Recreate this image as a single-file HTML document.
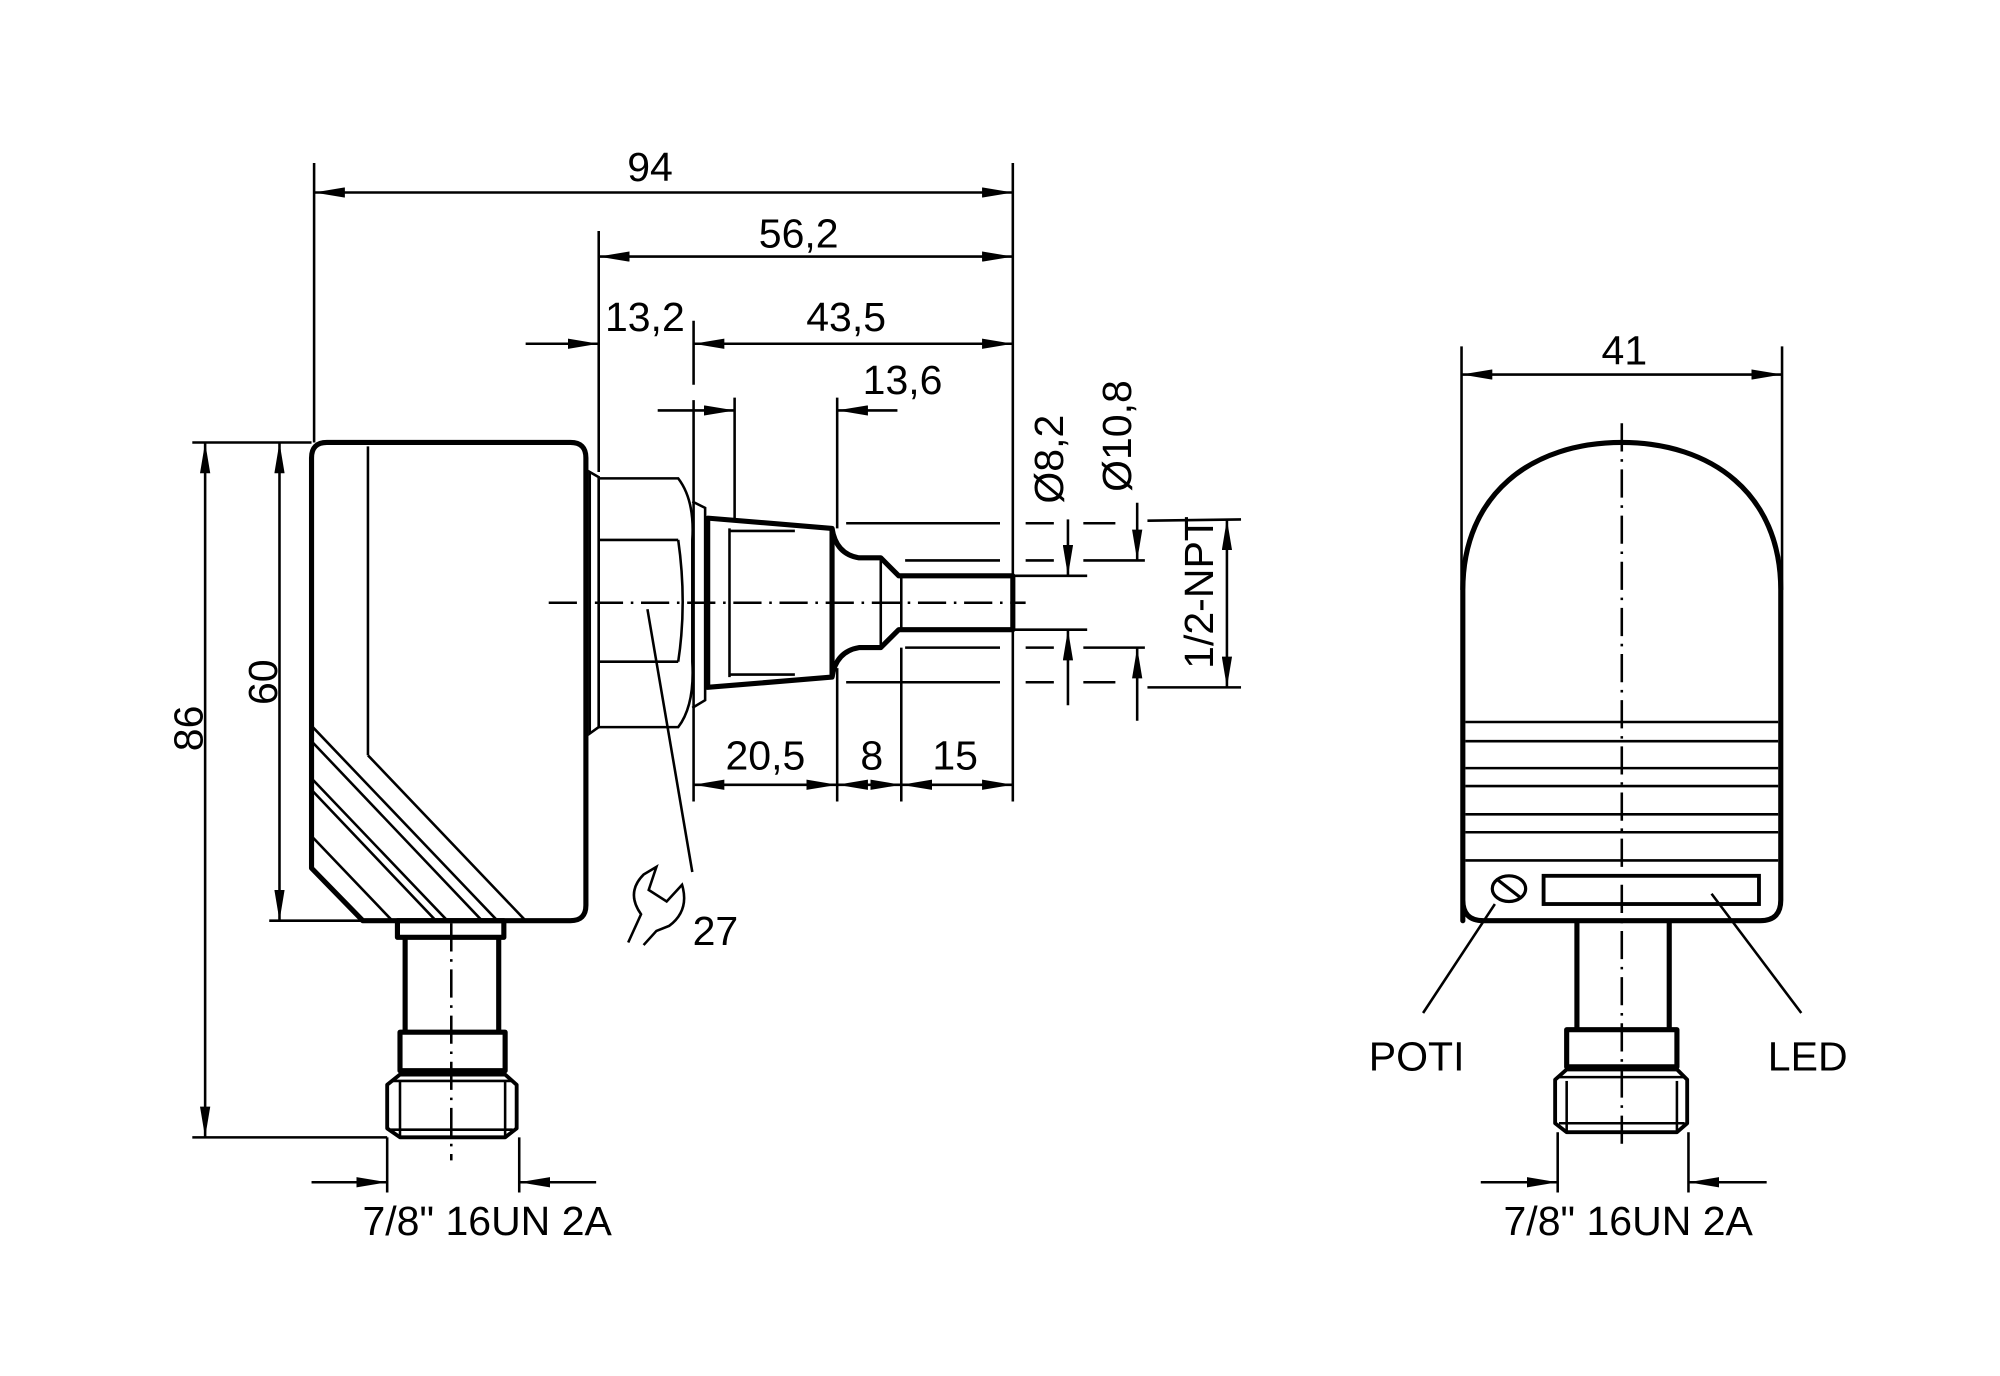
<!DOCTYPE html>
<html><head><meta charset="utf-8"><style>
html,body{margin:0;padding:0;background:#fff}
svg{display:block}
text{font-family:"Liberation Sans",Arial,sans-serif;fill:#000}
</style></head><body>
<svg width="2000" height="1376" viewBox="0 0 1560 1073" xmlns="http://www.w3.org/2000/svg">
<defs>
<marker id="a" viewBox="0 0 24 8" refX="24" refY="4" markerWidth="24" markerHeight="8" markerUnits="userSpaceOnUse" orient="auto-start-reverse"><path d="M0,0 L24,4 L0,8 z" fill="#000"/></marker>
</defs>
<g stroke="#000" fill="none" stroke-width="2">
<line x1="245" y1="127" x2="245" y2="345"/>
<line x1="790" y1="127" x2="790" y2="625"/>
<line x1="467" y1="180" x2="467" y2="368"/>
<line x1="541" y1="250" x2="541" y2="300"/>
<line x1="541" y1="312" x2="541" y2="625"/>
<line x1="573" y1="310" x2="573" y2="405"/>
<line x1="653" y1="310" x2="653" y2="412"/>
<line x1="653" y1="521" x2="653" y2="625"/>
<line x1="703" y1="505" x2="703" y2="625"/>
<line x1="150" y1="345" x2="243" y2="345"/>
<line x1="210" y1="718" x2="283" y2="718"/>
<line x1="150" y1="887" x2="302" y2="887"/>
<line x1="302" y1="887" x2="302" y2="930"/>
<line x1="405" y1="887" x2="405" y2="930"/>
<line x1="245" y1="150" x2="790" y2="150" marker-start="url(#a)" marker-end="url(#a)"/>
<line x1="467" y1="200" x2="790" y2="200" marker-start="url(#a)" marker-end="url(#a)"/>
<line x1="410" y1="268" x2="467" y2="268" marker-end="url(#a)"/>
<line x1="541" y1="268" x2="790" y2="268" marker-start="url(#a)" marker-end="url(#a)"/>
<line x1="513" y1="320" x2="573" y2="320" marker-end="url(#a)"/>
<line x1="700" y1="320" x2="653" y2="320" marker-end="url(#a)"/>
<line x1="833" y1="405" x2="833" y2="449" marker-end="url(#a)"/>
<line x1="833" y1="550" x2="833" y2="491" marker-end="url(#a)"/>
<line x1="887" y1="392" x2="887" y2="437" marker-end="url(#a)"/>
<line x1="887" y1="562" x2="887" y2="505" marker-end="url(#a)"/>
<line x1="957" y1="405" x2="957" y2="536" marker-start="url(#a)" marker-end="url(#a)"/>
<line x1="541" y1="612" x2="653" y2="612" marker-start="url(#a)" marker-end="url(#a)"/>
<line x1="653" y1="612" x2="703" y2="612" marker-start="url(#a)" marker-end="url(#a)"/>
<line x1="703" y1="612" x2="790" y2="612" marker-start="url(#a)" marker-end="url(#a)"/>
<line x1="218" y1="345" x2="218" y2="718" marker-start="url(#a)" marker-end="url(#a)"/>
<line x1="160" y1="345" x2="160" y2="887" marker-start="url(#a)" marker-end="url(#a)"/>
<line x1="243" y1="922" x2="302" y2="922" marker-end="url(#a)"/>
<line x1="465" y1="922" x2="405" y2="922" marker-end="url(#a)"/>
<line x1="790" y1="449" x2="848" y2="449"/>
<line x1="790" y1="491" x2="848" y2="491"/>
<line x1="660" y1="408" x2="780" y2="408"/>
<line x1="660" y1="532" x2="780" y2="532"/>
<line x1="800" y1="408" x2="822" y2="408"/><line x1="845" y1="408" x2="870" y2="408"/><line x1="895" y1="406" x2="968" y2="405"/>
<line x1="800" y1="532" x2="822" y2="532"/><line x1="845" y1="532" x2="870" y2="532"/><line x1="895" y1="536" x2="968" y2="536"/>
<line x1="706" y1="437" x2="780" y2="437"/><line x1="800" y1="437" x2="822" y2="437"/><line x1="845" y1="437" x2="893" y2="437"/>
<line x1="706" y1="505" x2="780" y2="505"/><line x1="800" y1="505" x2="822" y2="505"/><line x1="845" y1="505" x2="893" y2="505"/>
<line x1="428" y1="470" x2="800" y2="470" stroke-dasharray="22,6,2,6"/>
<line x1="352" y1="720" x2="352" y2="905" stroke-dasharray="22,6,2,6"/>
<line x1="505" y1="475" x2="540" y2="680"/>
<path d="M490,735 L500,713 Q488,696 502,682 L512,676 L506,694 L520,703 L532,690 Q538,710 522,722 L512,726 L502,737"/>
<path d="M460,368 L467,372 L467,567 L460,572 Z"/>
<path d="M467,373 L529,373 Q542,390 540,421 Q540,470 540,516 Q542,550 529,567 L467,567 Z"/>
<line x1="467" y1="421" x2="529" y2="421"/><line x1="467" y1="516" x2="529" y2="516"/>
<path d="M529,421 Q536,470 529,516"/>
<path d="M540,391 L550,396 L550,546 L540,552"/>
<line x1="569" y1="412" x2="569" y2="528"/>
<line x1="569" y1="414" x2="620" y2="414"/>
<line x1="569" y1="526" x2="620" y2="526"/>
<line x1="687" y1="437" x2="687" y2="505"/>
<line x1="703" y1="449" x2="703" y2="491"/>
</g>
<g stroke="#000" fill="none" stroke-width="4" stroke-linejoin="round">
<path d="M243,677 L243,357 Q243,345 255,345 L445,345 Q457,345 457,357 L457,706 Q457,718 445,718 L283,718 Z"/>
<path d="M552,404 L649,412 Q652,432 670,435 L687,435 L701,449 L790,449 L790,491 L701,491 L687,505 L670,505 Q652,508 649,528 L552,536 Z"/>
<line x1="649" y1="412" x2="649" y2="528"/>
<rect x="310" y="718" width="83" height="13"/>
<line x1="316" y1="731" x2="316" y2="805"/><line x1="389" y1="731" x2="389" y2="805"/>
<rect x="312" y="805" width="82" height="30"/>
<path d="M302,846 L312,838 L394,838 L403,846 L403,880 L394,887 L312,887 L302,880 Z" stroke-width="3"/>
<path d="M1141,718 L1141,460 C1141,385 1195,345 1265,345 C1335,345 1389,385 1389,460 L1389,702 Q1389,718 1373,718 L1157,718 Q1141,718 1141,702 Z" stroke-width="4"/>
<line x1="1230" y1="718" x2="1230" y2="803"/><line x1="1302" y1="718" x2="1302" y2="803"/>
<rect x="1222" y="803" width="86" height="29"/>
<path d="M1213,842 L1222,834 L1308,834 L1316,842 L1316,876 L1308,883 L1222,883 L1213,876 Z" stroke-width="3"/>
</g>
<g stroke="#000" fill="none" stroke-width="2">
<line x1="287" y1="348" x2="287" y2="589"/>
<line x1="287" y1="589" x2="410" y2="718"/>
<line x1="243" y1="566" x2="388" y2="718"/>
<line x1="243" y1="578" x2="376" y2="718"/>
<line x1="243" y1="607" x2="349" y2="718"/>
<line x1="243" y1="616" x2="340" y2="718"/>
<line x1="243" y1="652" x2="306" y2="718"/>
<line x1="312" y1="843" x2="312" y2="887"/><line x1="394" y1="843" x2="394" y2="887"/>
<line x1="305" y1="843" x2="400" y2="843"/><line x1="305" y1="881" x2="400" y2="881"/>
<line x1="1140" y1="270" x2="1140" y2="460"/>
<line x1="1390" y1="270" x2="1390" y2="460"/>
<line x1="1140" y1="292" x2="1390" y2="292" marker-start="url(#a)" marker-end="url(#a)"/>
<line x1="1143" y1="563" x2="1387" y2="563"/>
<line x1="1143" y1="578" x2="1387" y2="578"/>
<line x1="1143" y1="599" x2="1387" y2="599"/>
<line x1="1143" y1="613" x2="1387" y2="613"/>
<line x1="1143" y1="635" x2="1387" y2="635"/>
<line x1="1143" y1="649" x2="1387" y2="649"/>
<line x1="1143" y1="671" x2="1387" y2="671"/>
<ellipse cx="1177" cy="693" rx="13" ry="10" stroke-width="2.5"/>
<line x1="1168" y1="686" x2="1186" y2="700" stroke-width="2.5"/>
<rect x="1204" y="683" width="168" height="22" stroke-width="3"/>
<line x1="1166" y1="705" x2="1110" y2="790"/>
<line x1="1335" y1="697" x2="1405" y2="790"/>
<line x1="1222" y1="843" x2="1222" y2="883"/><line x1="1308" y1="843" x2="1308" y2="883"/>
<line x1="1216" y1="840" x2="1314" y2="840"/><line x1="1216" y1="876" x2="1314" y2="876"/>
<line x1="1265" y1="330" x2="1265" y2="893" stroke-dasharray="22,6,2,6" stroke-width="2"/>
<line x1="1215" y1="883" x2="1215" y2="930"/><line x1="1317" y1="883" x2="1317" y2="930"/>
<line x1="1155" y1="922" x2="1215" y2="922" marker-end="url(#a)"/>
<line x1="1378" y1="922" x2="1317" y2="922" marker-end="url(#a)"/>
</g>
<g font-size="32" text-anchor="middle">
<text x="507" y="141">94</text>
<text x="623" y="193">56,2</text>
<text x="503" y="258">13,2</text>
<text x="660" y="258">43,5</text>
<text x="704" y="307">13,6</text>
<text x="597" y="600">20,5</text>
<text x="680" y="600">8</text>
<text x="745" y="600">15</text>
<text x="380" y="963">7/8" 16UN 2A</text>
<text x="1270" y="963">7/8" 16UN 2A</text>
<text x="1267" y="284">41</text>
<text x="1105" y="835">POTI</text>
<text x="1410" y="835">LED</text>
<text transform="translate(216,532) rotate(-90)">60</text>
<text transform="translate(158,568) rotate(-90)">86</text>
<text transform="translate(829,358) rotate(-90)">Ø8,2</text>
<text transform="translate(882,340) rotate(-90)">Ø10,8</text>
<text transform="translate(946,462) rotate(-90)">1/2-NPT</text>
<text x="558" y="737" font-size="32">27</text>
</g>
</svg>
</body></html>
